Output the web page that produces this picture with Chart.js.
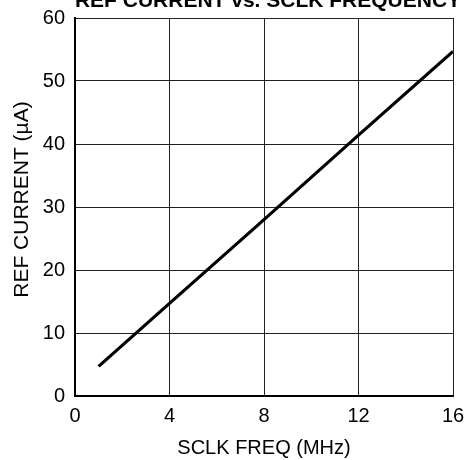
<!DOCTYPE html>
<html><head><meta charset="utf-8">
<script src="https://cdn.jsdelivr.net/npm/chart.js@4"></script>
<style>html,body{margin:0;padding:0;background:#fff}#w{width:466px;height:460px}</style>
</head><body><div id="w"><canvas id="c"></canvas></div>
<script>
const chartTitle = 'REF CURRENT vs. SCLK FREQUENCY';
const freqMHz = [1, 4, 8, 12, 16];
const refCurrent = [4.7, 14.7, 28.0, 41.4, 54.7];
const xTicks = [0, 4, 8, 12, 16];
const yTicks = [0, 10, 20, 30, 40, 50, 60];
const xLabel = 'SCLK FREQ (MHz)';
const yLabel = 'REF CURRENT (\u00B5A)';
const FONT = '"Liberation Sans", Arial, sans-serif';

const textPlugin = {
  id: 'extraText',
  afterDraw(chart) {
    const ctx = chart.ctx;
    ctx.save();
    ctx.font = 'bold 21px ' + FONT;
    ctx.fillStyle = '#000';
    ctx.textAlign = 'center';
    ctx.textBaseline = 'alphabetic';
    ctx.fillText(chartTitle, 268, 7);
    ctx.restore();
    ctx.save();
    ctx.font = '21px ' + FONT;
    ctx.fillStyle = '#000';
    ctx.textAlign = 'center';
    ctx.textBaseline = 'middle';
    ctx.translate(22, 199.5);
    ctx.rotate(-Math.PI / 2);
    ctx.fillText(yLabel, 0, 0);
    ctx.restore();
  }
};

function noPad(s) { s.paddingLeft = 0; s.paddingRight = 0; s.paddingTop = 0; s.paddingBottom = 0; }

new Chart(document.getElementById('c'), {
  type: 'scatter',
  data: {
    datasets: [{
      data: freqMHz.map((x, i) => ({x, y: refCurrent[i]})),
      showLine: true,
      borderColor: '#000',
      borderWidth: 3.2,
      pointRadius: 0,
      tension: 0
    }]
  },
  options: {
    animation: false,
    responsive: true,
    maintainAspectRatio: false,
    layout: {padding: {top: 18, right: 13, left: 0, bottom: 0}},
    plugins: {legend: {display: false}, tooltip: {enabled: false}},
    scales: {
      x: {
        type: 'linear', min: 0, max: 16,
        afterBuildTicks: s => { s.ticks = xTicks.map(v => ({value: v})); },
        afterFit: s => { s.height = 64; noPad(s); },
        grid: {color: '#222', lineWidth: 1, drawTicks: false},
        border: {color: '#000', width: 2},
        ticks: {color: '#000', font: {family: FONT, size: 20}, padding: 8, maxRotation: 0},
        title: {display: true, text: xLabel, color: '#000', font: {family: FONT, size: 20}, padding: {top: 1, bottom: 0}}
      },
      y: {
        type: 'linear', min: 0, max: 60,
        afterBuildTicks: s => { s.ticks = yTicks.map(v => ({value: v})); },
        afterFit: s => { s.width = 75; noPad(s); },
        grid: {color: '#222', lineWidth: 1, drawTicks: false},
        border: {color: '#000', width: 2},
        ticks: {color: '#000', font: {family: FONT, size: 20}, padding: 10},
        title: {display: false}
      }
    }
  },
  plugins: [textPlugin]
});
</script>
</body></html>
